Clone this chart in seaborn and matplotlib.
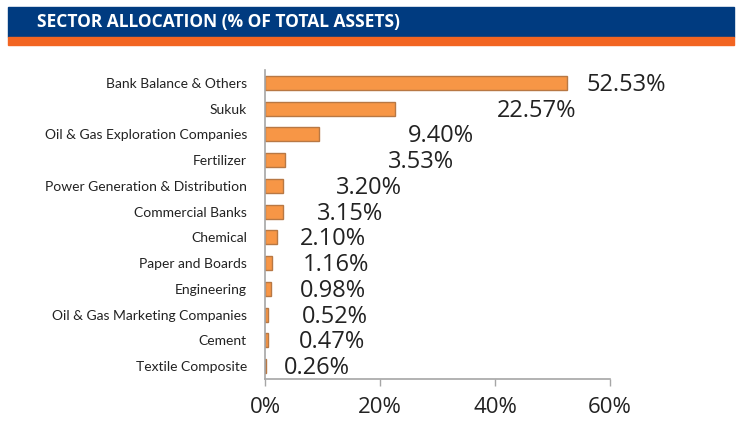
import matplotlib
matplotlib.use("Agg")
import matplotlib.pyplot as plt
from matplotlib.patches import Rectangle
import seaborn as sns
import pandas as pd

sectors = ["Bank Balance & Others", "Sukuk", "Oil & Gas Exploration Companies",
           "Fertilizer", "Power Generation & Distribution", "Commercial Banks",
           "Chemical", "Paper and Boards", "Engineering",
           "Oil & Gas Marketing Companies", "Cement", "Textile Composite"]
values = [52.53, 22.57, 9.40, 3.53, 3.20, 3.15, 2.10, 1.16, 0.98, 0.52, 0.47, 0.26]
value_labels = ["52.53%", "22.57%", "9.40%", "3.53%", "3.20%", "3.15%",
                "2.10%", "1.16%", "0.98%", "0.52%", "0.47%", "0.26%"]
# left edge of each value label, in axis units (as placed in the original)
label_x = [56.0, 40.3, 24.9, 21.4, 12.3, 9.0, 6.1, 6.6, 6.1, 6.4, 5.9, 3.3]
xticks = [0, 20, 40, 60]
xtick_labels = ["0%", "20%", "40%", "60%"]
title = "SECTOR ALLOCATION (% OF TOTAL ASSETS)"

df = pd.DataFrame({"sector": sectors, "value": values})

sns.set_theme(style="white")
plt.rcParams["font.family"] = ["Lato", "DejaVu Sans"]

fig = plt.figure(figsize=(7.39, 4.21), dpi=100)
W, H = 739, 421

# header bands
fig.patches.append(Rectangle((8 / W, 1 - 37 / H), 726 / W, 30 / H,
                             transform=fig.transFigure, color="#003B80", zorder=0))
fig.patches.append(Rectangle((8 / W, 1 - 45 / H), 726 / W, 8 / H,
                             transform=fig.transFigure, color="#F26522", zorder=0))
fig.text(37 / W, 1 - 22 / H, title, color="white", fontsize=12.5,
         fontweight="bold", va="center", ha="left", family=["Open Sans", "DejaVu Sans"])

ax = fig.add_axes([265 / W, 1 - 379 / H, 345 / W, 309 / H])
sns.barplot(data=df, x="value", y="sector", orient="h", ax=ax,
            color="#F79646", saturation=1, width=0.55,
            edgecolor="#B87844", linewidth=1.0)

for i, (lx, lab) in enumerate(zip(label_x, value_labels)):
    ax.text(lx, i + 0.08, lab, fontsize=17, color="#222222", va="center", ha="left",
            family=["Open Sans", "DejaVu Sans"], clip_on=False)

ax.set_xlim(0, 60)
ax.set_ylim(11.5, -0.5)
ax.set_xticks(xticks)
ax.set_xticklabels(xtick_labels, fontsize=16, color="#222222",
                   family=["Open Sans", "DejaVu Sans"])
ax.set_xlabel("")
ax.set_ylabel("")
ax.tick_params(axis="y", labelsize=10, length=0, pad=13, labelcolor="#222222")
ax.tick_params(axis="x", length=5, width=1, color="#A6A6A6", pad=8, direction="out",
               bottom=True)
for s in ["top", "right"]:
    ax.spines[s].set_visible(False)
for s in ["left", "bottom"]:
    ax.spines[s].set_color("#A6A6A6")
    ax.spines[s].set_linewidth(1.2)
ax.grid(False)

fig.savefig("out.png", dpi=100)
